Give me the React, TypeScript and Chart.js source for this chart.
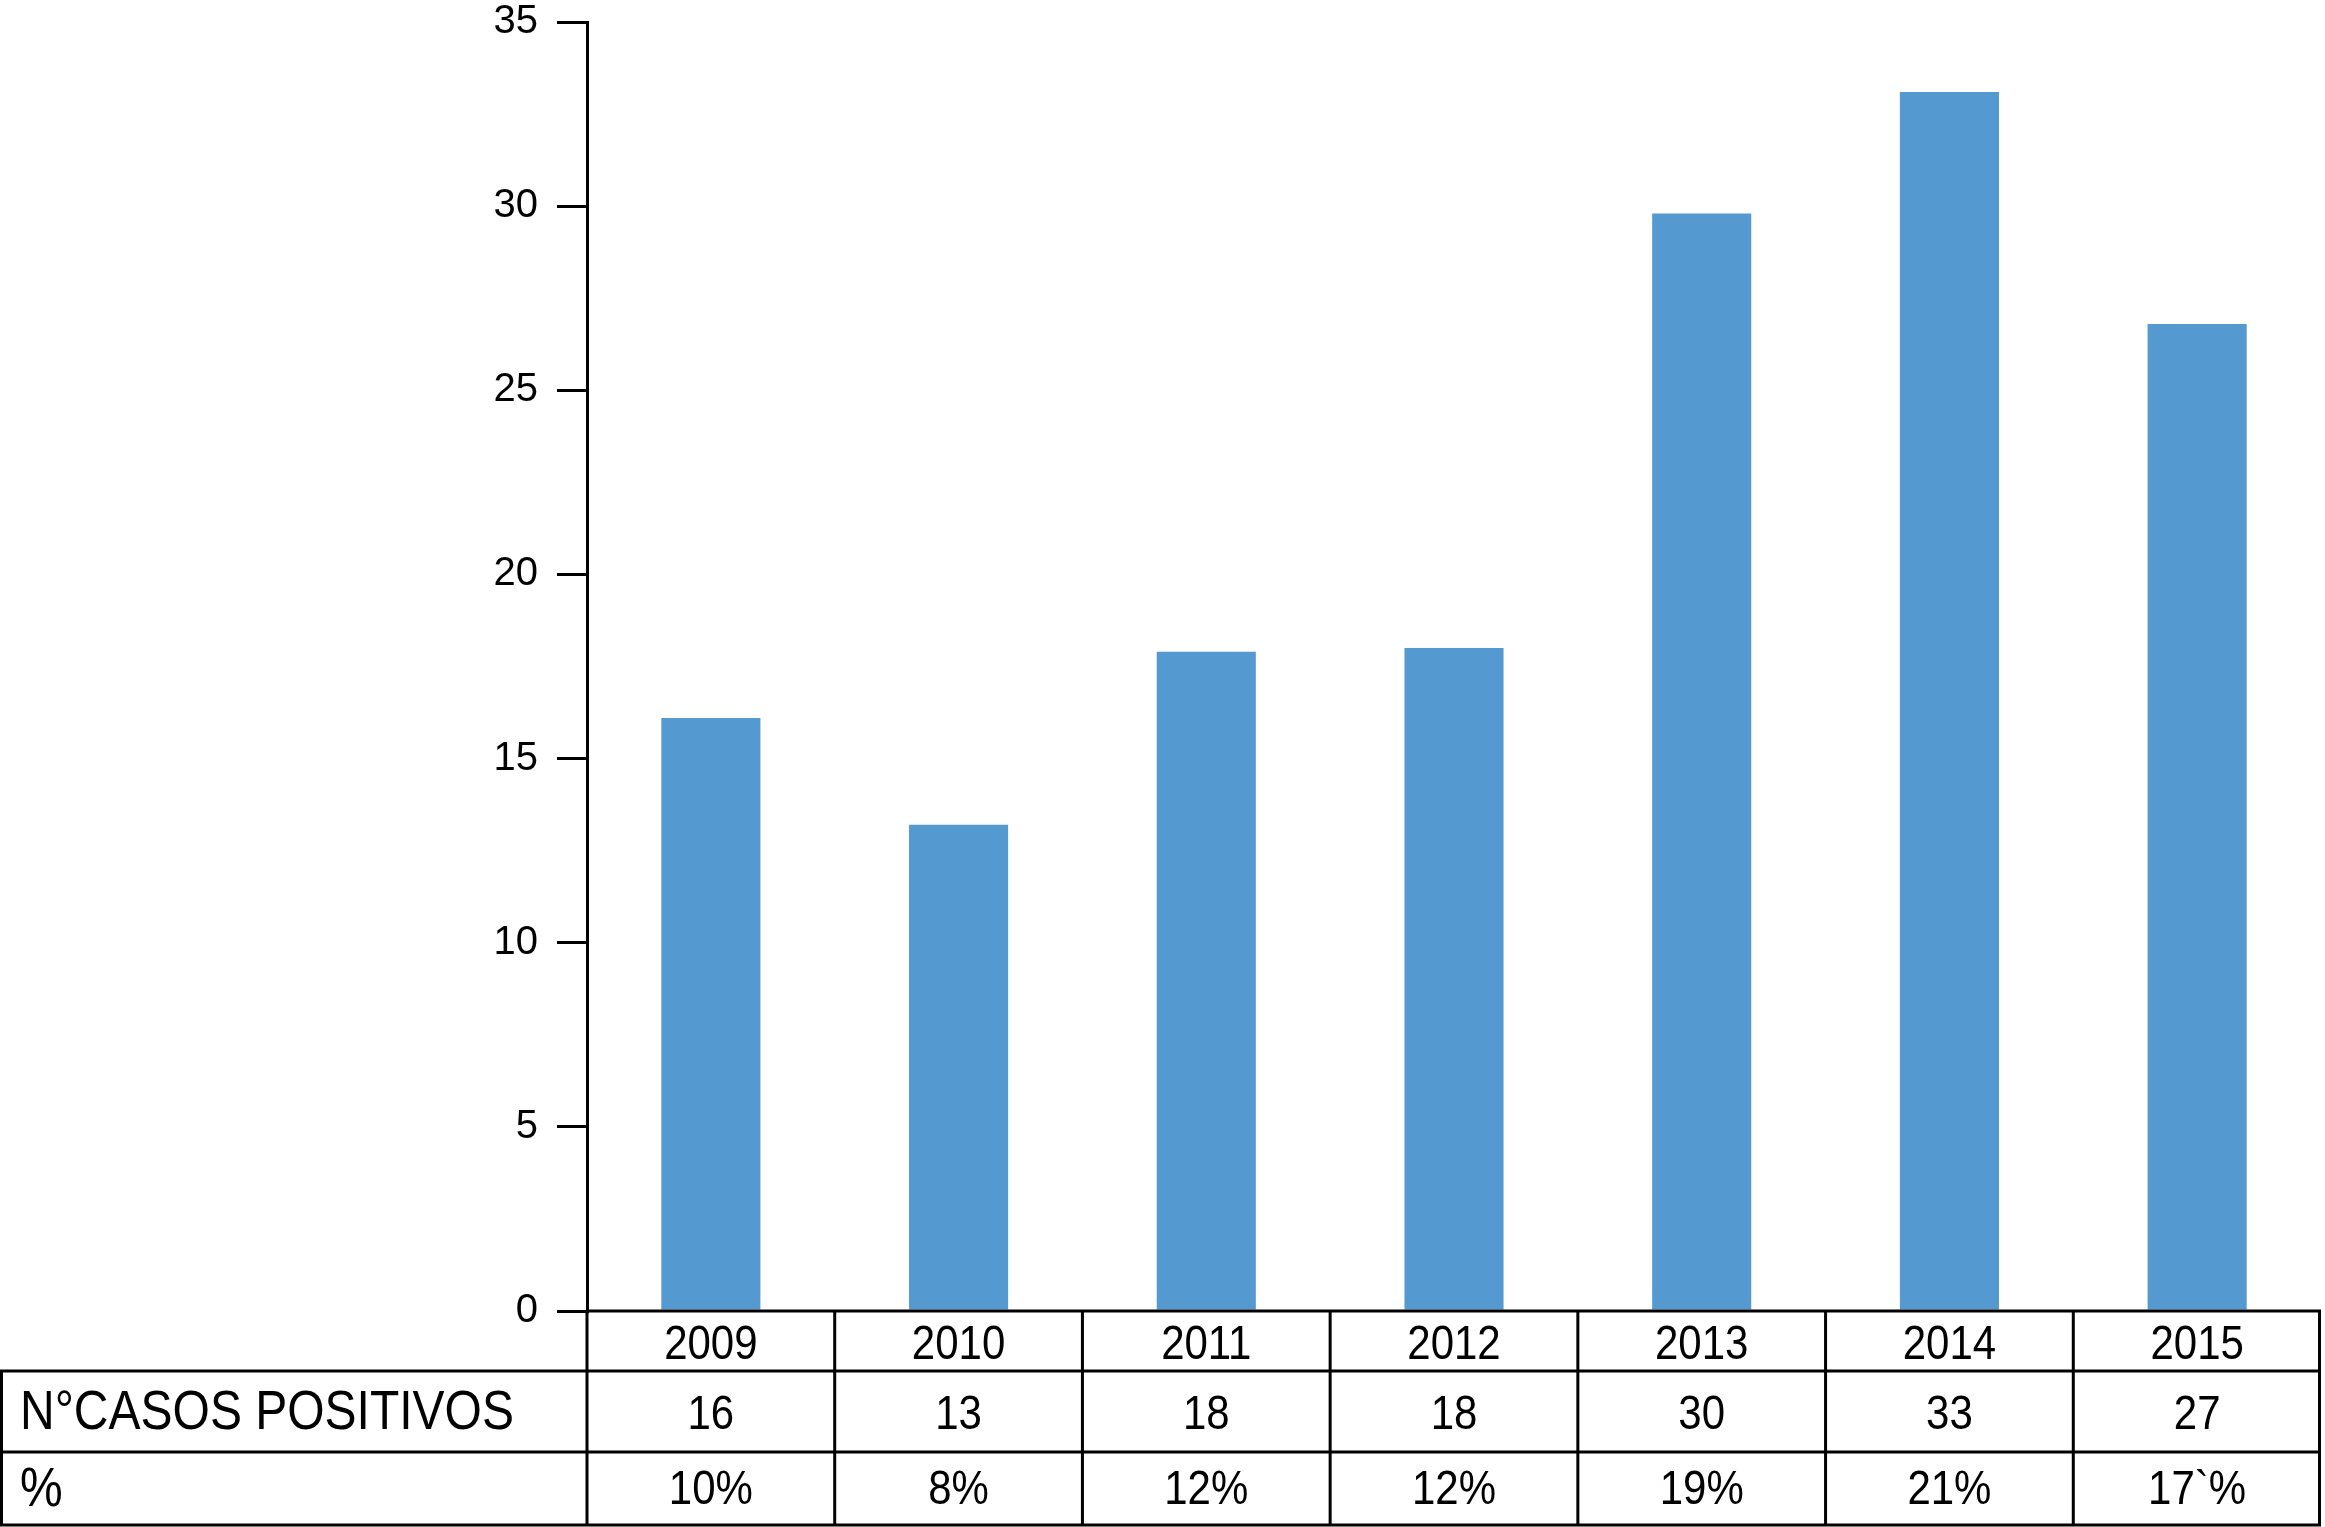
import React, { useEffect, useRef } from "react";
import { Chart, registerables } from "chart.js";

Chart.register(...registerables);

const years = ["2009", "2010", "2011", "2012", "2013", "2014", "2015"];
const barValues = [16.1, 13.2, 17.9, 18.0, 29.8, 33.1, 26.8];
const casosRow = ["16", "13", "18", "18", "30", "33", "27"];
const percentRow = ["10%", "8%", "12%", "12%", "19%", "21%", "17`%"];
const rowLabels = ["N°CASOS POSITIVOS", "%"];
const yMin = 0;
const yMax = 35;
const yStep = 5;

const FONT = '"Liberation Sans", Arial, Helvetica, sans-serif';

const tablePlugin = {
  id: "tablePlugin",
  afterDraw(chart: any) {
    const ctx = chart.ctx;
    const xs = chart.scales.x;
    const area = chart.chartArea;
    const n = years.length;
    const colW = (xs.right - xs.left) / n;
    const top = area.bottom;
    const r1 = top + 60;
    const r2 = r1 + 81;
    const r3 = r2 + 73;
    const left = xs.left;
    const right = xs.right;

    ctx.save();
    ctx.strokeStyle = "#000";
    ctx.lineWidth = 3;
    ctx.beginPath();
    ctx.moveTo(left, top);
    ctx.lineTo(right, top);
    ctx.moveTo(0, r1);
    ctx.lineTo(right, r1);
    ctx.moveTo(0, r2);
    ctx.lineTo(right, r2);
    ctx.moveTo(0, r3);
    ctx.lineTo(right, r3);
    ctx.moveTo(1.5, r1);
    ctx.lineTo(1.5, r3);
    for (let i = 0; i <= n; i++) {
      const x = i === n ? right - 1.5 : left + i * colW;
      ctx.moveTo(x, top);
      ctx.lineTo(x, r3 + 1.5);
    }
    ctx.stroke();

    const drawText = (t: string, x: number, y: number, size: number, align: CanvasTextAlign) => {
      ctx.save();
      ctx.font = `${size}px ${FONT}`;
      ctx.fillStyle = "#000";
      ctx.textAlign = align;
      ctx.textBaseline = "middle";
      ctx.translate(x, y);
      ctx.scale(1, 1.14);
      ctx.fillText(t, 0, 0);
      ctx.restore();
    };

    const yYear = (top + r1) / 2 + 5;
    const yRow1 = (r1 + r2) / 2 + 4;
    const yRow2 = (r2 + r3) / 2 + 2;
    for (let i = 0; i < n; i++) {
      const cx = xs.getPixelForValue(i);
      drawText(years[i], cx, yYear, 42, "center");
      drawText(casosRow[i], cx, yRow1, 42, "center");
      drawText(percentRow[i], cx, yRow2, 42, "center");
    }
    drawText(rowLabels[0], 20, yRow1 - 2, 48, "left");
    drawText(rowLabels[1], 20, yRow2, 48, "left");
    ctx.restore();
  },
};

export default function App() {
  const ref = useRef<HTMLCanvasElement | null>(null);
  useEffect(() => {
    if (!ref.current) return;
    const chart = new Chart(ref.current, {
      type: "bar",
      data: {
        labels: years,
        datasets: [
          {
            data: barValues,
            backgroundColor: "#5599D1",
            borderWidth: 0,
            categoryPercentage: 1,
            barPercentage: 0.4,
          },
        ],
      },
      options: {
        animation: false,
        responsive: false,
        devicePixelRatio: 1,
        layout: { padding: { top: 22, bottom: 216, left: 0, right: 4 } },
        plugins: {
          legend: { display: false },
          tooltip: { enabled: false },
          title: { display: false },
        },
        scales: {
          x: {
            display: false,
            offset: true,
          },
          y: {
            min: yMin,
            max: yMax,
            afterFit: (s: any) => {
              s.width = 587;
              s.paddingTop = 0;
              s.paddingBottom = 0;
            },
            ticks: {
              stepSize: yStep,
              color: "#000",
              padding: 19,
              font: { family: FONT, size: 40, lineHeight: 1 },
            },
            grid: {
              drawOnChartArea: false,
              drawTicks: true,
              tickLength: 30,
              tickWidth: 3,
              lineWidth: 3,
              color: "#000",
            },
            border: { display: true, color: "#000", width: 3 },
          },
        },
      },
      plugins: [tablePlugin],
    });
    return () => chart.destroy();
  }, []);
  return (
    <div style={{ position: "absolute", left: 0, top: 0, width: 2325, height: 1527, background: "#fff" }}>
      <canvas ref={ref} width={2325} height={1527} style={{ display: "block" }} />
    </div>
  );
}
